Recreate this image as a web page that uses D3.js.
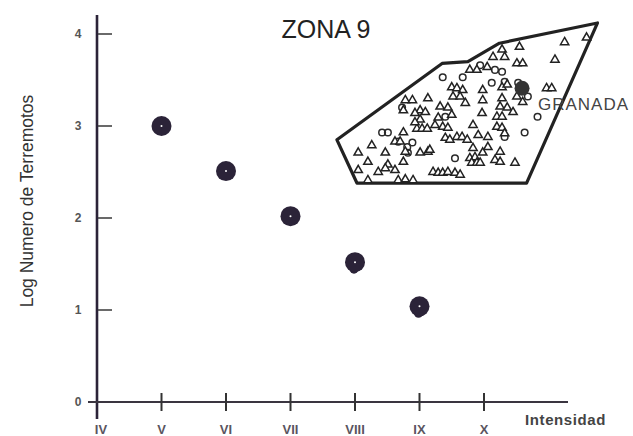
<!DOCTYPE html>
<html>
<head>
<meta charset="utf-8">
<script src="https://cdn.jsdelivr.net/npm/d3@7"></script>
<style>
  body { margin: 0; background: #fff; }
  svg { display: block; font-family: "Liberation Sans", Arial, sans-serif; }
</style>
</head>
<body>
<svg id="chart" width="633" height="436"></svg>
<script>
// intensity (roman numeral) on x, log of number of earthquakes on y
const intensities = [4, 5, 6, 7, 8, 9, 10];
const romanLabels = ["IV", "V", "VI", "VII", "VIII", "IX", "X"];
const yTicks = [0, 1, 2, 3, 4];

// frequency points
const freqIntensity = [5, 6, 7, 8, 9];
const freqLog = [3.0, 2.51, 2.02, 1.52, 1.04];

// zone outline (intensity, log)
const zoneX = [7.72, 9.35, 9.75, 10.24, 11.76, 10.66, 8.03];
const zoneY = [2.85, 3.68, 3.70, 3.90, 4.12, 2.38, 2.38];

// granada marker
const granada = [10.59, 3.41];

// epicentre symbols inside the zone
const triangles = [
  [11.25, 3.91], [11.59, 3.96], [10.55, 3.86], [10.28, 3.83], [10.14, 3.75], [10.32, 3.75],
  [10.51, 3.68], [10.60, 3.68], [11.10, 3.72], [10.05, 3.64], [9.78, 3.61], [9.89, 3.61],
  [10.97, 3.41], [11.05, 3.41], [9.50, 3.42], [9.58, 3.41], [9.67, 3.39], [9.98, 3.39],
  [10.28, 3.42], [10.36, 3.45], [9.13, 3.30], [8.78, 3.28], [8.89, 3.28], [9.52, 3.32],
  [9.63, 3.32], [9.98, 3.28], [10.28, 3.30], [10.51, 3.32], [10.60, 3.26], [9.32, 3.21],
  [9.44, 3.20], [9.71, 3.25], [9.01, 3.17], [9.09, 3.15], [8.93, 3.14], [8.75, 3.17],
  [10.25, 3.21], [10.36, 3.20], [9.97, 3.14], [10.20, 3.10], [10.28, 3.10], [9.29, 3.09],
  [9.50, 3.12], [9.01, 3.07], [9.24, 3.01], [9.36, 2.99], [9.44, 2.98], [8.96, 2.97],
  [9.04, 2.97], [9.12, 2.97], [9.83, 3.01], [10.20, 2.99], [10.28, 2.98], [10.32, 2.92],
  [8.75, 2.93], [8.93, 3.04], [9.58, 2.88], [9.66, 2.88], [9.74, 2.85], [9.91, 2.90],
  [10.06, 2.88], [9.40, 2.87], [9.47, 2.85], [8.62, 2.83], [8.70, 2.83], [8.26, 2.79],
  [8.05, 2.71], [8.47, 2.71], [9.83, 2.76], [10.06, 2.77], [9.98, 2.71], [10.25, 2.72],
  [9.01, 2.71], [9.13, 2.72], [8.78, 2.72], [9.78, 2.65], [9.86, 2.66], [8.20, 2.61],
  [8.05, 2.52], [8.51, 2.58], [8.47, 2.54], [8.62, 2.52], [8.75, 2.61], [8.36, 2.50],
  [10.17, 2.63], [10.25, 2.61], [9.81, 2.60], [9.89, 2.60], [9.94, 2.60], [9.21, 2.50],
  [9.29, 2.49], [9.36, 2.49], [9.44, 2.50], [9.55, 2.49], [9.63, 2.47], [8.20, 2.41],
  [8.67, 2.41], [8.78, 2.42], [8.90, 2.41], [10.48, 2.60], [10.45, 3.15], [9.16, 2.74]
];
const circles = [
  [9.36, 3.53], [9.67, 3.53], [9.94, 3.66], [10.17, 3.61], [10.28, 3.59], [10.53, 3.47],
  [10.12, 3.47], [10.32, 3.48], [10.68, 3.32], [10.83, 3.10], [8.73, 3.20], [9.40, 3.10],
  [8.81, 2.77], [8.89, 2.82], [8.82, 2.71], [9.55, 2.65], [10.32, 2.88], [10.63, 2.93],
  [8.42, 2.93], [8.51, 2.93], [8.67, 2.83]
];

const ink = "#2b2338";
const svg = d3.select("#chart");

const x = d3.scaleLinear().domain([4, 10]).range([97, 484]);
const y = d3.scaleLinear().domain([0, 4]).range([402, 34]);

// axes lines
svg.append("line").attr("x1", x(4)).attr("x2", x(4)).attr("y1", 15).attr("y2", 419)
  .attr("stroke", ink).attr("stroke-width", 2.6);
svg.append("line").attr("x1", 88).attr("x2", 568).attr("y1", y(0)).attr("y2", y(0))
  .attr("stroke", "#3a3540").attr("stroke-width", 2);

// y ticks
svg.append("g").selectAll("line").data(yTicks.filter(d => d > 0)).join("line")
  .attr("x1", x(4) + 1).attr("x2", x(4) + 15)
  .attr("y1", d => y(d)).attr("y2", d => y(d))
  .attr("stroke", "#444").attr("stroke-width", 1.6);
svg.append("g").selectAll("text").data(yTicks).join("text")
  .attr("x", 78).attr("y", d => y(d)).attr("dy", "0.35em")
  .attr("text-anchor", "middle").attr("font-size", 12).attr("font-weight", "bold")
  .attr("fill", "#555").text(d => d);

// x ticks
svg.append("g").selectAll("line").data(intensities.slice(1)).join("line")
  .attr("x1", d => x(d)).attr("x2", d => x(d))
  .attr("y1", y(0) - 9).attr("y2", y(0) + 9)
  .attr("stroke", "#333").attr("stroke-width", 2);
svg.append("g").selectAll("text").data(intensities).join("text")
  .attr("x", (d, i) => x(d) + (i === 0 ? 4 : 0)).attr("y", 434)
  .attr("text-anchor", "middle").attr("font-size", 13).attr("font-weight", "bold")
  .attr("fill", "#5a5560").text((d, i) => romanLabels[i]);

// titles
svg.append("text").attr("x", 326).attr("y", 38).attr("text-anchor", "middle")
  .attr("font-size", 25).attr("fill", "#222").text("ZONA 9");
svg.append("text").attr("transform", "translate(33,201) rotate(-90)")
  .attr("text-anchor", "middle").attr("font-size", 17.5).attr("fill", "#333")
  .text("Log Numero de Terremotos");
svg.append("text").attr("x", 525).attr("y", 425).attr("font-size", 15)
  .attr("font-weight", 600).attr("letter-spacing", 0.6).attr("fill", "#444")
  .text("Intensidad");

// zone polygon
const zonePts = zoneX.map((d, i) => [x(d), y(zoneY[i])]);
svg.append("path").attr("d", d3.line()(zonePts) + "Z")
  .attr("fill", "none").attr("stroke", "#222").attr("stroke-width", 3.2)
  .attr("stroke-linejoin", "round");

// epicentres
svg.append("g").selectAll("circle").data(circles).join("circle")
  .attr("cx", d => x(d[0])).attr("cy", d => y(d[1])).attr("r", 3.3)
  .attr("fill", "none").attr("stroke", "#2a2a2a").attr("stroke-width", 1.5);
const tri = d3.symbol(d3.symbolTriangle, 30);
svg.append("g").selectAll("path").data(triangles).join("path")
  .attr("transform", d => `translate(${x(d[0])},${y(d[1])})`)
  .attr("d", tri).attr("fill", "#fff").attr("stroke", "#222").attr("stroke-width", 1.5);

svg.append("circle").attr("cx", x(granada[0])).attr("cy", y(granada[1])).attr("r", 7.5)
  .attr("fill", "#333");
svg.append("text").attr("x", 538).attr("y", 110).attr("font-size", 17)
  .attr("letter-spacing", 1).attr("fill", "#444").text("GRANADA");

// frequency points
const pts = svg.append("g");
pts.selectAll("circle.blot").data(freqIntensity.slice(3)).join("circle").attr("class", "blot")
  .attr("cx", d => x(d) - 1).attr("cy", (d, i) => y(freqLog[i + 3]) + 7).attr("r", 4.5).attr("fill", ink);
pts.selectAll("circle.pt").data(freqIntensity).join("circle").attr("class", "pt")
  .attr("cx", d => x(d)).attr("cy", (d, i) => y(freqLog[i])).attr("r", 10).attr("fill", ink);
pts.selectAll("circle.hole").data(freqIntensity).join("circle").attr("class", "hole")
  .attr("cx", d => x(d)).attr("cy", (d, i) => y(freqLog[i])).attr("r", 1).attr("fill", "#fff");
</script>
</body>
</html>
